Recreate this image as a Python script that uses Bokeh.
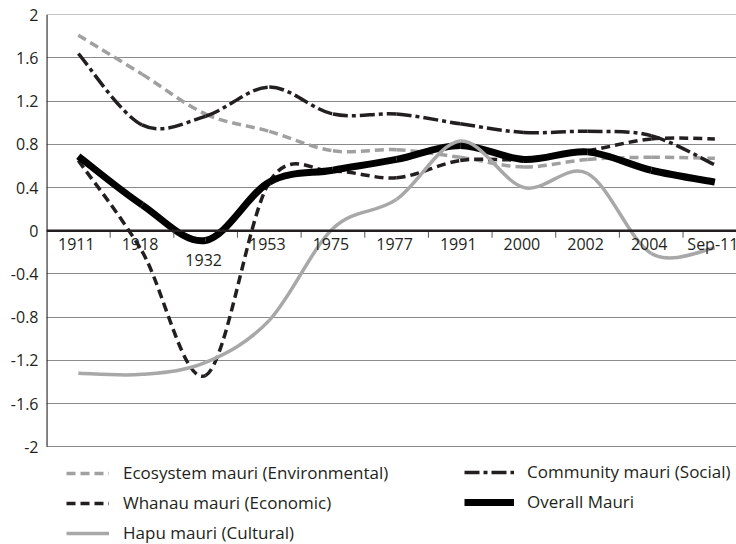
from bokeh.plotting import figure
from bokeh.models import Range1d, FixedTicker, Span, Legend, LegendItem, ColumnDataSource
from bokeh.core.properties import value
from bokeh.embed import file_html
from bokeh.resources import INLINE

# ---- data ----
categories = ["1911", "1918", "1932", "1953", "1975", "1977", "1991", "2000", "2002", "2004", "Sep-11"]
ecosystem = [1.81, 1.45, 1.08, 0.92, 0.74, 0.75, 0.68, 0.59, 0.66, 0.68, 0.67]
community = [1.64, 0.98, 1.06, 1.33, 1.08, 1.08, 0.99, 0.91, 0.92, 0.88, 0.61]
whanau = [0.65, -0.19, -1.34, 0.45, 0.55, 0.49, 0.65, 0.66, 0.74, 0.85, 0.85]
hapu = [-1.32, -1.33, -1.22, -0.83, 0.02, 0.29, 0.83, 0.40, 0.53, -0.21, -0.16]
overall = [0.69, 0.24, -0.09, 0.45, 0.56, 0.66, 0.79, 0.66, 0.73, 0.56, 0.45]
y_ticks = [-2, -1.6, -1.2, -0.8, -0.4, 0, 0.4, 0.8, 1.2, 1.6, 2]
y_tick_labels = ["-2", "-1.6", "-1.2", "-0.8", "-0.4", "0", "0.4", "0.8", "1.2", "1.6", "2"]

FONT = "Open Sans"
TEXT = "#231f20"
Y_MIN, Y_MAX = y_ticks[0], y_ticks[-1]

# frame spans from the top of the plot down to the bottom of the page so that
# the legend can live inside it; 108 px per unit on the value axis
PX_PER_UNIT = 108.0
FRAME_H = 544 - 14
y_top = Y_MAX + 0.002
y_bot = y_top - FRAME_H / PX_PER_UNIT

p = figure(width=736, height=544, output_backend="svg", toolbar_location=None,
           x_range=Range1d(-0.5, 10.34), y_range=Range1d(y_bot, y_top),
           min_border_left=46, min_border_right=0, min_border_top=14, min_border_bottom=0)
p.outline_line_color = None
p.background_fill_color = "white"
p.border_fill_color = "white"

# axes
p.xaxis.visible = False
p.xgrid.visible = False
yax = p.yaxis[0]
yax.ticker = FixedTicker(ticks=y_ticks)
yax.major_label_overrides = {t: l for t, l in zip(y_ticks, y_tick_labels)}
yax.major_tick_out = 0
yax.major_tick_in = 0
yax.minor_tick_out = 0
yax.minor_tick_in = 0
yax.major_label_standoff = 8
yax.axis_line_color = None
yax.major_label_text_font = FONT
yax.major_label_text_font_size = "16px"
yax.major_label_text_color = TEXT
p.ygrid.ticker = FixedTicker(ticks=y_ticks)
p.ygrid.grid_line_color = "#8a8a8a"
p.ygrid.grid_line_width = 1
# value-axis line, from the lowest to the highest tick
p.segment(x0=[-0.5], y0=[Y_MIN], x1=[-0.5], y1=[Y_MAX], line_color=TEXT, line_width=2.2)


def bez(vals):
    n = len(vals)
    xs = list(range(n))
    d = dict(x0=[], y0=[], x1=[], y1=[], cx0=[], cy0=[], cx1=[], cy1=[])
    for i in range(n - 1):
        a = max(i - 1, 0)
        b = min(i + 2, n - 1)
        d["x0"].append(xs[i]); d["y0"].append(vals[i])
        d["x1"].append(xs[i + 1]); d["y1"].append(vals[i + 1])
        d["cx0"].append(xs[i] + (xs[i + 1] - xs[a]) / 6)
        d["cy0"].append(vals[i] + (vals[i + 1] - vals[a]) / 6)
        d["cx1"].append(xs[i + 1] - (xs[b] - xs[i]) / 6)
        d["cy1"].append(vals[i + 1] - (vals[b] - vals[i]) / 6)
    return ColumnDataSource(d)


def draw(vals, **kw):
    return p.bezier(x0="x0", y0="y0", x1="x1", y1="y1", cx0="cx0", cy0="cy0",
                    cx1="cx1", cy1="cy1", source=bez(vals), **kw)


r_eco = draw(ecosystem, line_color="#a0a0a0", line_width=3.5, line_dash="9 5")
r_com = draw(community, line_color=TEXT, line_width=3.5, line_dash="15 4 4 4")
r_wha = draw(whanau, line_color=TEXT, line_width=3.5, line_dash="9 5")
r_ove = draw(overall, line_color="#000000", line_width=7)
r_hap = draw(hapu, line_color="#a8a8a8", line_width=3.5)

# category axis at zero
p.add_layout(Span(location=0, dimension="width", line_color=TEXT, line_width=2.5))
n = len(categories)
bounds = [i + 0.5 for i in range(n - 1)]
p.ray(x=bounds, y=[0] * len(bounds), length=7, length_units="screen",
      angle=-1.5708, line_color="#555555", line_width=1)
lab_src = ColumnDataSource(dict(
    x=list(range(n)), y=[0] * n, text=categories,
    yo=[29 if c == "1932" else 13 for c in categories]))
p.text(x="x", y="y", text="text", source=lab_src, x_offset=-2, y_offset="yo",
       text_align="center", text_baseline="middle", text_font=value(FONT),
       text_font_size="16px", text_color=TEXT)

# legends
common = dict(border_line_color=None, background_fill_alpha=0, padding=0, margin=0,
              spacing=7, glyph_height=22, label_height=22,
              label_text_font=FONT, label_text_font_size="17px", label_text_color=TEXT)
leg1 = Legend(items=[LegendItem(label="Ecosystem mauri (Environmental)", renderers=[r_eco]),
                     LegendItem(label="Whanau mauri (Economic)", renderers=[r_wha]),
                     LegendItem(label="Hapu mauri (Cultural)", renderers=[r_hap])],
              location=(20, 0), glyph_width=43, label_standoff=14, **common)
leg2 = Legend(items=[LegendItem(label="Community mauri (Social)", renderers=[r_com]),
                     LegendItem(label="Overall Mauri", renderers=[r_ove])],
              location=(418, 31), glyph_width=50, label_standoff=13, **common)
p.add_layout(leg1)
p.add_layout(leg2)

open("out.html", "w").write(file_html(p, INLINE))
